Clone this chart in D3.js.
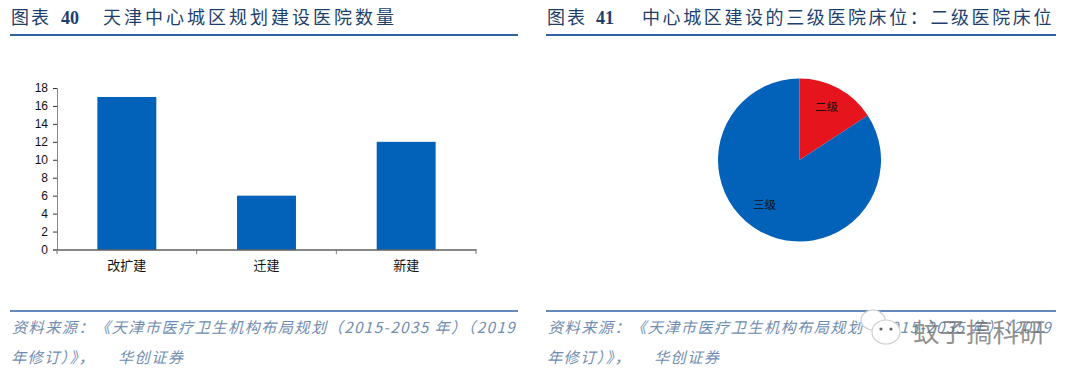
<!DOCTYPE html>
<html><head><meta charset="utf-8">
<script src="https://cdn.jsdelivr.net/npm/d3@7"></script>
<style>html,body{margin:0;padding:0;background:#fff}svg{display:block}</style></head>
<body><svg id="c" width="1080" height="375"></svg>
<script>
const barCategories = ["改扩建","迁建","新建"];
const barValues = [17,6,12];
const yTicks = [0,2,4,6,8,10,12,14,16,18];
const pieLabels = ["二级","三级"];
const pieValues = [15.8,84.2];
const titles = [["图表","40","天津中心城区规划建设医院数量"],["图表","41","中心城区建设的三级医院床位：二级医院床位"]];
const sourceLine1 = "资料来源：《天津市医疗卫生机构布局规划（2015-2035 年）（2019";
const sourceLine2a = "年修订）》，";
const sourceLine2b = "华创证券";
const watermark = "蚊子搞科研";

const svg = d3.select("#c");
const cjk = "'Noto Sans CJK SC','Liberation Serif',serif";
const rule = "#2f63a3", blue = "#0261b8", red = "#e6141c";

[[10,518],[546,1056]].forEach(([x0,x1],i)=>{
  const t = svg.append("text").attr("y",24).attr("font-family",cjk).attr("font-size",18).attr("fill","#1c3f6e");
  t.append("tspan").attr("x",x0+1).attr("letter-spacing",2).text(titles[i][0]);
  t.append("tspan").attr("x",x0+51+(i?-1:0)).attr("font-family","'Liberation Serif'").attr("font-weight","bold").attr("font-size",18).text(titles[i][1]);
  t.append("tspan").attr("x",x0+(i?96:93)).attr("letter-spacing",i?2.6:3).text(titles[i][2]);
  svg.append("line").attr("x1",x0).attr("x2",x1).attr("y1",35).attr("y2",35).attr("stroke",rule).attr("stroke-width",2);
  svg.append("line").attr("x1",x0).attr("x2",x1).attr("y1",311).attr("y2",311).attr("stroke",rule).attr("stroke-width",1.6);
  const s = svg.append("g").attr("font-family",cjk).attr("font-size",15.2).attr("font-style","italic").attr("fill","#6f8db0").attr("letter-spacing",1.42);
  s.append("text").attr("x",x0+2).attr("y",333).text(sourceLine1);
  s.append("text").attr("x",x0+1).attr("y",363).text(sourceLine2a);
  s.append("text").attr("x",x0+108).attr("y",363).text(sourceLine2b);
});

// bar chart
const x = d3.scaleBand().domain(barCategories).range([57,476]).paddingInner(0.578).paddingOuter(0.289);
const y = d3.scaleLinear().domain([0,18]).range([249.5,88]);
const g = svg.append("g");
g.selectAll("rect").data(barValues).join("rect")
  .attr("x",(d,i)=>x(barCategories[i])).attr("width",x.bandwidth())
  .attr("y",d=>y(d)).attr("height",d=>y(0)-y(d)).attr("fill",blue);
const ya = g.append("g").attr("transform","translate(57,0)").call(d3.axisLeft(y).tickValues(yTicks).tickSize(4).tickPadding(5));
ya.select(".domain").attr("stroke","#888");
ya.selectAll("line").attr("stroke","#333");
ya.selectAll("text").attr("font-family","'Liberation Sans'").attr("font-size",12).attr("fill","#111");
const step = (476-57)/3;
const xa = g.append("g").attr("transform","translate(0,249.5)").call(d3.axisBottom(x).tickSize(0).tickPadding(11));
xa.select(".domain").attr("stroke","#111");
xa.selectAll("text").attr("font-family",cjk).attr("font-size",13).attr("fill","#111");
[0,1,2,3].forEach(i=>g.append("line").attr("x1",57+i*step).attr("x2",57+i*step).attr("y1",249.5).attr("y2",254).attr("stroke","#777"));

// pie chart
const arc = d3.arc().innerRadius(0).outerRadius(81.5);
const pie = d3.pie().sort(null);
const pg = svg.append("g").attr("transform","translate(799.5,160)");
pg.selectAll("path").data(pie(pieValues)).join("path").attr("d",arc).attr("fill",(d,i)=>i?blue:red);
pg.selectAll("text").data(pie(pieValues)).join("text")
  .attr("transform",(d,i)=>`translate(${i?[-35,45]:[27,-53]})`)
  .attr("text-anchor","middle").attr("dy","0.35em")
  .attr("font-family",cjk).attr("font-size",11.5).attr("fill","#111").text((d,i)=>pieLabels[i]);

// watermark
const wm = svg.append("g");
wm.append("text").attr("x",913).attr("y",342).attr("font-family",cjk).attr("font-size",26.5).attr("fill","#6e6e6e").attr("fill-opacity",0.75).text(watermark);
const ic = wm.append("g").attr("fill","#fff").attr("stroke","#cfcfcf").attr("stroke-width",1.2);
ic.append("ellipse").attr("cx",873).attr("cy",320).attr("rx",12).attr("ry",10);
ic.append("ellipse").attr("cx",886).attr("cy",332).attr("rx",14).attr("ry",12);
wm.append("circle").attr("cx",881).attr("cy",329).attr("r",1.6).attr("fill","#666");
wm.append("circle").attr("cx",891).attr("cy",329).attr("r",1.6).attr("fill","#666");
</script></body></html>
